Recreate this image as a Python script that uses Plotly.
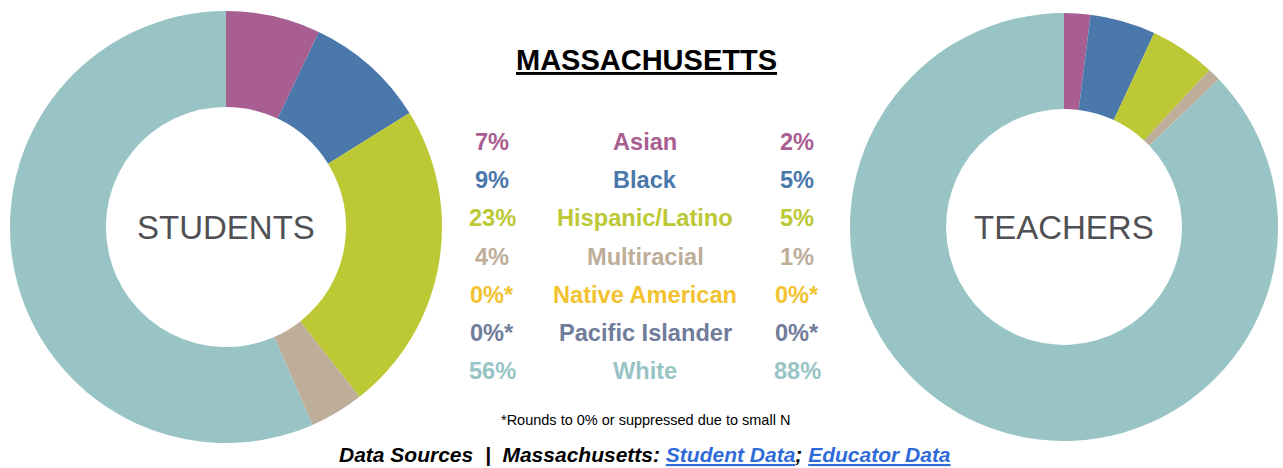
import plotly.graph_objects as go

# ---------------------------------------------------------------------
# Data
# ---------------------------------------------------------------------
groups = ["Asian", "Black", "Hispanic/Latino", "Multiracial",
          "Native American", "Pacific Islander", "White"]
student_pct = [7, 9, 23, 4, 0, 0, 56]
teacher_pct = [2, 5, 5, 1, 0, 0, 88]
group_colors = ["#A85E91", "#4A78AB", "#BCC834", "#BEAD99",
                "#F2C230", "#707C9A", "#99C4C5"]

state = "MASSACHUSETTS"
footnote = "*Rounds to 0% or suppressed due to small N"

W, H = 1283, 468
FONT = "Liberation Sans, Arial, Helvetica, sans-serif"


def px_x(x):
    return x / W


def px_y(y):
    # pixel from top -> paper coords
    return 1 - y / H


def pct_label(v):
    return f"{v}%*" if v == 0 else f"{v}%"


fig = go.Figure()

# donuts
for vals, cx, cy, r, hole in [(student_pct, 226, 227, 216, 0.556),
                              (teacher_pct, 1064, 227, 214, 0.551)]:
    fig.add_trace(go.Pie(
        labels=groups, values=vals, hole=hole, sort=False,
        direction="clockwise", rotation=0,
        marker=dict(colors=group_colors, line=dict(width=0)),
        textinfo="none", showlegend=False,
        domain=dict(x=[px_x(cx - r), px_x(cx + r)],
                    y=[px_y(cy + r), px_y(cy - r)]),
    ))

ann = []
# labels in the holes
ann.append(dict(text="STUDENTS", x=px_x(226), y=px_y(227),
                font=dict(size=33, color="#505054")))
ann.append(dict(text="TEACHERS", x=px_x(1064), y=px_y(227),
                font=dict(size=33, color="#505054")))

# title
ann.append(dict(text=f"<b><u>{state}</u></b>", x=px_x(646), y=px_y(60),
                font=dict(size=29, color="#000000")))

# the table in the middle
for i, g in enumerate(groups):
    yy = px_y(142 + i * 38.2)
    c = group_colors[i]
    f = dict(size=23.6, color=c)
    ann.append(dict(text=f"<b>{pct_label(student_pct[i])}</b>", x=px_x(492), y=yy, font=f))
    ann.append(dict(text=f"<b>{g}</b>", x=px_x(645), y=yy, font=f))
    ann.append(dict(text=f"<b>{pct_label(teacher_pct[i])}</b>", x=px_x(797), y=yy, font=f))

ann.append(dict(text=footnote, x=px_x(645), y=px_y(420),
                font=dict(size=14.5, color="#000000")))

link = "color:#2F6BD8"
ann.append(dict(
    text=("<b><i>Data Sources  |  Massachusetts: "
          f"<span style='{link}'><u>Student Data</u></span>; "
          f"<span style='{link}'><u>Educator Data</u></span></i></b>"),
    x=px_x(645), y=px_y(454), font=dict(size=21, color="#000000")))

for a in ann:
    a.update(xref="paper", yref="paper", showarrow=False,
             xanchor="center", yanchor="middle")

fig.update_layout(
    width=W, height=H,
    margin=dict(l=0, r=0, t=0, b=0),
    paper_bgcolor="white", plot_bgcolor="white",
    font=dict(family=FONT),
    annotations=ann,
)

# the page body has a default 8px margin, drop it so the figure fills the window
fig.write_html("out.html", config={"displayModeBar": False},
               post_script="document.body.style.margin = '0';")
